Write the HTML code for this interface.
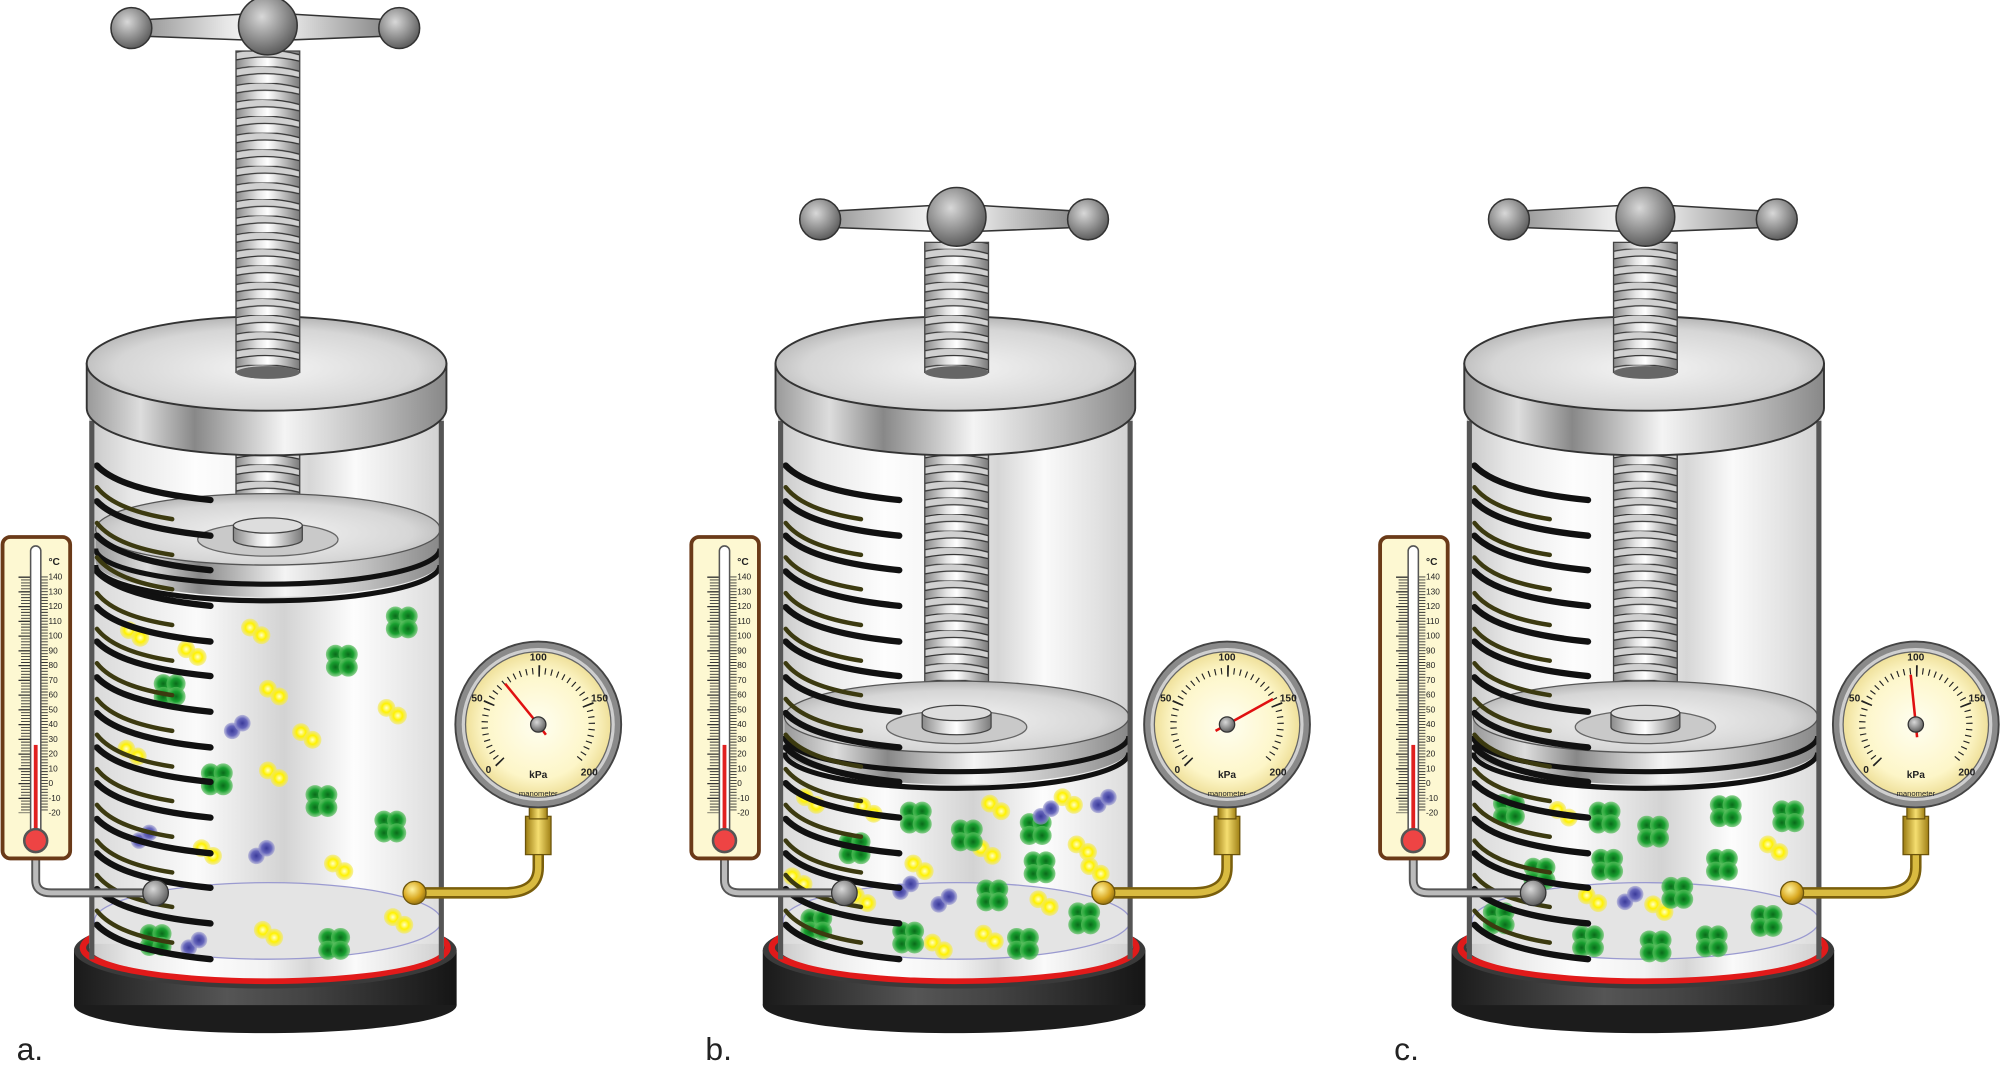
<!DOCTYPE html>
<html><head><meta charset="utf-8"><style>html,body{margin:0;padding:0;background:#fff}svg{display:block}</style></head>
<body>
<svg xmlns="http://www.w3.org/2000/svg" width="2000" height="1074" viewBox="0 0 1568 842" font-family="Liberation Sans, sans-serif">
<defs>
<linearGradient id="metal" x1="0" x2="1" y1="0" y2="0"><stop offset="0" stop-color="#8a8a8a"/><stop offset=".35" stop-color="#e6e6e6"/><stop offset=".5" stop-color="#fff"/><stop offset=".75" stop-color="#bdbdbd"/><stop offset="1" stop-color="#7a7a7a"/></linearGradient>
<linearGradient id="band" x1="0" x2="1"><stop offset="0" stop-color="#999"/><stop offset=".15" stop-color="#ddd"/><stop offset=".3" stop-color="#888"/><stop offset=".55" stop-color="#f4f4f4"/><stop offset=".8" stop-color="#bbb"/><stop offset="1" stop-color="#888"/></linearGradient>
<radialGradient id="lidtop" cx=".5" cy=".55" r=".6"><stop offset="0" stop-color="#f4f4f4"/><stop offset=".7" stop-color="#d6d6d6"/><stop offset="1" stop-color="#a9a9a9"/></radialGradient>
<linearGradient id="glass" x1="0" x2="1"><stop offset="0" stop-color="#c8c8c8"/><stop offset=".12" stop-color="#e8e8e8"/><stop offset=".3" stop-color="#fdfdfd"/><stop offset=".5" stop-color="#f2f2f2"/><stop offset=".62" stop-color="#d6d6d6"/><stop offset=".75" stop-color="#fafafa"/><stop offset=".9" stop-color="#e2e2e2"/><stop offset="1" stop-color="#cfcfcf"/></linearGradient>
<linearGradient id="gas" x1="0" x2="1"><stop offset="0" stop-color="#d9d9d9"/><stop offset=".3" stop-color="#fbfbfb"/><stop offset=".55" stop-color="#d3d3d3"/><stop offset=".75" stop-color="#fdfdfd"/><stop offset="1" stop-color="#dcdcdc"/></linearGradient>
<linearGradient id="basegr" x1="0" x2="1"><stop offset="0" stop-color="#1a1a1a"/><stop offset=".4" stop-color="#555"/><stop offset=".6" stop-color="#444"/><stop offset="1" stop-color="#151515"/></linearGradient>
<radialGradient id="ball" cx=".4" cy=".35" r=".7"><stop offset="0" stop-color="#d8d8d8"/><stop offset=".6" stop-color="#8a8a8a"/><stop offset="1" stop-color="#555"/></radialGradient>
<radialGradient id="gball" cx=".4" cy=".35" r=".7"><stop offset="0" stop-color="#fff3a0"/><stop offset=".6" stop-color="#d9a820"/><stop offset="1" stop-color="#8a6a10"/></radialGradient>
<radialGradient id="face" cx=".5" cy=".5" r=".5"><stop offset="0" stop-color="#fffef0"/><stop offset=".75" stop-color="#fdf6c8"/><stop offset="1" stop-color="#efe09a"/></radialGradient>
<linearGradient id="brass" x1="0" x2="1"><stop offset="0" stop-color="#9a7a10"/><stop offset=".5" stop-color="#f5de70"/><stop offset="1" stop-color="#a08015"/></linearGradient>
<radialGradient id="yg"><stop offset="0" stop-color="#ffffc8"/><stop offset=".5" stop-color="#fff200"/><stop offset="1" stop-color="#f2e860" stop-opacity=".6"/></radialGradient>
<radialGradient id="gg"><stop offset="0" stop-color="#0a6a1a"/><stop offset=".55" stop-color="#19a030"/><stop offset="1" stop-color="#5cc060" stop-opacity=".7"/></radialGradient>
<radialGradient id="bg"><stop offset="0" stop-color="#3a3a9a"/><stop offset=".6" stop-color="#6666bb"/><stop offset="1" stop-color="#9a9ad0" stop-opacity=".6"/></radialGradient>
<pattern id="thread" patternUnits="userSpaceOnUse" x="185" y="0" width="50" height="13">
<rect width="50" height="13" fill="url(#metal)"/>
<path d="M0 2 Q25 -3 50 4 L50 9 Q25 3 0 8 Z" fill="#d0d0d0" stroke="#333" stroke-width="1"/>
</pattern>
<g id="Y"><circle cx="-4" cy="-3" r="7" fill="url(#yg)"/><circle cx="5" cy="3" r="7" fill="url(#yg)"/></g>
<g id="B"><circle cx="-4" cy="3" r="6.5" fill="url(#bg)"/><circle cx="4" cy="-3" r="6.5" fill="url(#bg)"/></g>
<g id="G"><circle cx="-5" cy="-5" r="7.5" fill="url(#gg)"/><circle cx="5" cy="-5" r="7.5" fill="url(#gg)"/><circle cx="-5" cy="5" r="7.5" fill="url(#gg)"/><circle cx="5" cy="5" r="7.5" fill="url(#gg)"/></g>
<g id="base">
<ellipse cx="208" cy="788" rx="150" ry="22" fill="#1c1c1c"/>
<rect x="58" y="745" width="300" height="43" fill="url(#basegr)"/>
<ellipse cx="208" cy="745" rx="150" ry="30" fill="#3a3a3a"/>
<ellipse cx="208" cy="743" rx="143" ry="26" fill="none" stroke="#e11a1a" stroke-width="5"/>
</g>
<g id="cyl">
<rect x="70" y="318" width="278" height="425" fill="url(#glass)"/>
<ellipse cx="209" cy="743" rx="139" ry="24" fill="url(#glass)"/>
</g>
<g id="coil" fill="none" stroke-linecap="round">
<g stroke="#111" stroke-width="5">
<path d="M76 365 Q95 385 165 392"/><path d="M76 393 Q95 413 165 420"/><path d="M76 420 Q95 440 165 447"/><path d="M76 448 Q95 468 165 475"/><path d="M76 476 Q95 496 165 503"/><path d="M76 503 Q95 523 165 530"/><path d="M76 531 Q95 551 165 558"/><path d="M76 559 Q95 579 165 586"/><path d="M76 586 Q95 606 165 613"/><path d="M76 614 Q95 634 165 641"/><path d="M76 642 Q95 662 165 669"/><path d="M76 669 Q95 689 165 696"/><path d="M76 697 Q95 717 165 724"/><path d="M76 725 Q95 745 165 752"/>
</g>
<g stroke="#3c3a10" stroke-width="3.5">
<path d="M76 382 Q90 400 135 407"/><path d="M76 410 Q90 428 135 435"/><path d="M76 437 Q90 455 135 462"/><path d="M76 465 Q90 483 135 490"/><path d="M76 493 Q90 511 135 518"/><path d="M76 520 Q90 538 135 545"/><path d="M76 548 Q90 566 135 573"/><path d="M76 576 Q90 594 135 601"/><path d="M76 603 Q90 621 135 628"/><path d="M76 631 Q90 649 135 656"/><path d="M76 659 Q90 677 135 684"/><path d="M76 686 Q90 704 135 711"/><path d="M76 714 Q90 732 135 739"/>
</g>
</g>
<g id="lid">
<path d="M68 285 L68 320 A141 37 0 0 0 350 320 L350 285 Z" fill="url(#band)" stroke="#333" stroke-width="1.5"/>
<ellipse cx="209" cy="285" rx="141" ry="37" fill="url(#lidtop)" stroke="#333" stroke-width="1.5"/>
</g>
<g id="handle">
<path d="M103 16 L210 10 L313 16 L313 28 L210 32 L103 28 Z" fill="url(#metal)" stroke="#333" stroke-width="1.2" transform="translate(0,0)"/>
<circle cx="103" cy="22" r="16" fill="url(#ball)" stroke="#333" stroke-width="1.2"/>
<circle cx="313" cy="22" r="16" fill="url(#ball)" stroke="#333" stroke-width="1.2"/>
<circle cx="210" cy="20" r="23" fill="url(#ball)" stroke="#333" stroke-width="1.2"/>
</g>
<g id="piston">
<path d="M75 415 L75 440 A135 28 0 0 0 345 440 L345 415 Z" fill="url(#band)"/>
<ellipse cx="210" cy="415" rx="135" ry="28" fill="url(#lidtop)" stroke="#555" stroke-width="1"/>
<path d="M75 430 A135 28 0 0 0 345 430" fill="none" stroke="#111" stroke-width="4"/>
<path d="M75 443 A135 28 0 0 0 345 443" fill="none" stroke="#111" stroke-width="4"/>
<ellipse cx="210" cy="423" rx="55" ry="13" fill="#c9c9c9" stroke="#666" stroke-width="1"/>
<path d="M183 412 L183 423 A27 6 0 0 0 237 423 L237 412 Z" fill="url(#metal)" stroke="#444" stroke-width="1"/>
<ellipse cx="210" cy="412" rx="27" ry="6" fill="#ddd" stroke="#444" stroke-width="1"/>
</g>
<g id="gaugebody">
<path d="M328 700 L395 700 Q422 700 422 680 L422 665" fill="none" stroke="#7a5f0c" stroke-width="9"/>
<path d="M328 700 L395 700 Q422 700 422 680 L422 665" fill="none" stroke="#d9bb40" stroke-width="5"/>
<rect x="412" y="640" width="20" height="30" fill="url(#brass)" stroke="#6b540c" stroke-width="1"/>
<rect x="415" y="632" width="14" height="10" fill="url(#brass)" stroke="#6b540c" stroke-width="1"/>
<circle cx="325" cy="700" r="9" fill="url(#gball)" stroke="#6b540c" stroke-width="1"/>
<circle cx="422" cy="568" r="65" fill="#8a8a8a" stroke="#444" stroke-width="1.5"/>
<circle cx="422" cy="568" r="60" fill="#cfcfcf"/>
<circle cx="422" cy="568" r="57" fill="url(#face)" stroke="#666" stroke-width="1"/>
<path d="M392.3 597.7 A42 42 0 1 1 451.7 597.7" fill="none" stroke="#222" stroke-width="5" stroke-dasharray="0.9 4.05"/>
<path d="M392.3 597.7 A42 42 0 1 1 451.7 597.7" fill="none" stroke="#222" stroke-width="9" stroke-dasharray="1.3 48.17"/>
<g font-size="8" font-weight="bold" fill="#222" text-anchor="middle">
<text x="383" y="606">0</text><text x="374" y="550">50</text><text x="422" y="518">100</text><text x="470" y="550">150</text><text x="462" y="608">200</text>
<text x="422" y="610">kPa</text><text x="422" y="624" font-size="6" font-weight="normal">manometer</text>
</g>
</g>
<g id="thermo">
<path d="M28 673 L28 690 Q28 700 40 700 L120 700" fill="none" stroke="#555" stroke-width="7"/>
<path d="M28 673 L28 690 Q28 700 40 700 L120 700" fill="none" stroke="#bbb" stroke-width="4"/>
<rect x="2" y="421" width="53" height="252" rx="6" fill="#fdf8d2" stroke="#6a3a18" stroke-width="3"/>
<line x1="20" y1="452" x2="20" y2="637" stroke="#333" stroke-width="7" stroke-dasharray="0.7 1.612"/>
<line x1="19" y1="452" x2="19" y2="637.5" stroke="#333" stroke-width="9" stroke-dasharray="1 10.56"/>
<line x1="35" y1="452" x2="35" y2="637" stroke="#333" stroke-width="5" stroke-dasharray="0.7 1.612"/>
<rect x="24" y="428" width="8" height="228" rx="4" fill="#fff" stroke="#555" stroke-width="1.2"/>
<rect x="26.5" y="584" width="3" height="70" fill="#e02020"/>
<circle cx="28" cy="659" r="9" fill="#ee4444" stroke="#555" stroke-width="2"/>
<g font-size="6.5" fill="#222">
<text x="38" y="443" font-size="8" font-weight="bold">°C</text>
<text x="38" y="454.5">140</text><text x="38" y="466">130</text><text x="38" y="477.6">120</text><text x="38" y="489.2">110</text><text x="38" y="500.7">100</text><text x="38" y="512.3">90</text><text x="38" y="523.9">80</text><text x="38" y="535.4">70</text><text x="38" y="547">60</text><text x="38" y="558.5">50</text><text x="38" y="570.1">40</text><text x="38" y="581.7">30</text><text x="38" y="593.2">20</text><text x="38" y="604.8">10</text><text x="38" y="616.4">0</text><text x="38" y="627.9">-10</text><text x="38" y="639.5">-20</text>
</g>
<circle cx="122" cy="700" r="10" fill="url(#ball)" stroke="#333" stroke-width="1"/>
</g>
</defs>

<!-- ============ A ============ -->
<g>
<use href="#base"/>
<use href="#cyl"/>
<rect x="72" y="440" width="274" height="300" fill="url(#gas)"/>
<ellipse cx="210" cy="722" rx="136" ry="30" fill="#e4e4e4" stroke="#9a9ad0" stroke-width="1"/>
<rect x="185" y="320" width="50" height="95" fill="url(#thread)" stroke="#444"/>
<use href="#piston"/>
<use href="#Y" x="105" y="497"/><use href="#Y" x="150" y="512"/><use href="#Y" x="200" y="495"/><use href="#Y" x="214" y="543"/><use href="#Y" x="240" y="577"/><use href="#Y" x="214" y="607"/><use href="#Y" x="307" y="558"/><use href="#Y" x="103" y="590"/><use href="#Y" x="162" y="668"/><use href="#Y" x="265" y="680"/><use href="#Y" x="312" y="722"/><use href="#Y" x="210" y="732"/>
<use href="#G" x="315" y="488"/><use href="#G" x="268" y="518"/><use href="#G" x="133" y="541"/><use href="#G" x="170" y="611"/><use href="#G" x="252" y="628"/><use href="#G" x="306" y="648"/><use href="#G" x="262" y="740"/><use href="#G" x="122" y="737"/>
<use href="#B" x="186" y="570"/><use href="#B" x="113" y="656"/><use href="#B" x="205" y="668"/><use href="#B" x="152" y="740"/>
<use href="#coil"/>
<line x1="72" y1="330" x2="72" y2="752" stroke="#555" stroke-width="4"/><line x1="346" y1="330" x2="346" y2="752" stroke="#555" stroke-width="4"/>
<use href="#lid"/>
<rect x="185" y="40" width="50" height="252" fill="url(#thread)" stroke="#444"/>
<ellipse cx="210" cy="292" rx="25" ry="5" fill="#666"/>
<use href="#handle"/>
<use href="#thermo"/>
<use href="#gaugebody"/>
<line x1="422" y1="568" x2="396" y2="536" stroke="#e01010" stroke-width="2"/><line x1="422" y1="568" x2="428" y2="576" stroke="#e01010" stroke-width="2"/>
<circle cx="422" cy="568" r="6" fill="url(#ball)" stroke="#333" stroke-width="1"/>
<text x="13" y="831" font-size="25" fill="#222">a.</text>
</g>

<!-- ============ B ============ -->
<g transform="translate(540,0)">
<use href="#base"/>
<use href="#cyl"/>
<rect x="72" y="585" width="274" height="155" fill="url(#gas)"/>
<ellipse cx="210" cy="722" rx="136" ry="30" fill="#e4e4e4" stroke="#9a9ad0" stroke-width="1"/>
<rect x="185" y="320" width="50" height="240" fill="url(#thread)" stroke="#444"/>
<use href="#piston" y="147"/>
<use href="#Y" x="95" y="628"/><use href="#Y" x="140" y="635"/><use href="#Y" x="240" y="633"/><use href="#Y" x="297" y="628"/><use href="#Y" x="233" y="668"/><use href="#Y" x="308" y="665"/><use href="#Y" x="180" y="680"/><use href="#Y" x="85" y="690"/><use href="#Y" x="135" y="705"/><use href="#Y" x="278" y="708"/><use href="#Y" x="195" y="742"/><use href="#Y" x="235" y="735"/><use href="#Y" x="318" y="682"/>
<use href="#G" x="178" y="641"/><use href="#G" x="218" y="655"/><use href="#G" x="272" y="650"/><use href="#G" x="275" y="680"/><use href="#G" x="130" y="665"/><use href="#G" x="238" y="702"/><use href="#G" x="310" y="720"/><use href="#G" x="262" y="740"/><use href="#G" x="172" y="735"/><use href="#G" x="100" y="725"/>
<use href="#B" x="280" y="637"/><use href="#B" x="325" y="628"/><use href="#B" x="200" y="706"/><use href="#B" x="170" y="696"/>
<use href="#coil"/>
<line x1="72" y1="330" x2="72" y2="752" stroke="#555" stroke-width="4"/><line x1="346" y1="330" x2="346" y2="752" stroke="#555" stroke-width="4"/>
<use href="#lid"/>
<rect x="185" y="190" width="50" height="102" fill="url(#thread)" stroke="#444"/>
<ellipse cx="210" cy="292" rx="25" ry="5" fill="#666"/>
<use href="#handle" y="150"/>
<use href="#thermo"/>
<use href="#gaugebody"/>
<line x1="422" y1="568" x2="458" y2="548" stroke="#e01010" stroke-width="2"/><line x1="422" y1="568" x2="413" y2="573" stroke="#e01010" stroke-width="2"/>
<circle cx="422" cy="568" r="6" fill="url(#ball)" stroke="#333" stroke-width="1"/>
<text x="13" y="831" font-size="25" fill="#222">b.</text>
</g>

<!-- ============ C ============ -->
<g transform="translate(1080,0)">
<use href="#base"/>
<use href="#cyl"/>
<rect x="72" y="585" width="274" height="155" fill="url(#gas)"/>
<ellipse cx="210" cy="722" rx="136" ry="30" fill="#e4e4e4" stroke="#9a9ad0" stroke-width="1"/>
<rect x="185" y="320" width="50" height="240" fill="url(#thread)" stroke="#444"/>
<use href="#piston" y="147"/>
<use href="#Y" x="145" y="638"/><use href="#Y" x="310" y="665"/><use href="#Y" x="168" y="705"/><use href="#Y" x="220" y="712"/>
<use href="#G" x="103" y="635"/><use href="#G" x="178" y="641"/><use href="#G" x="216" y="652"/><use href="#G" x="273" y="636"/><use href="#G" x="322" y="640"/><use href="#G" x="180" y="678"/><use href="#G" x="270" y="678"/><use href="#G" x="127" y="685"/><use href="#G" x="235" y="700"/><use href="#G" x="95" y="720"/><use href="#G" x="165" y="738"/><use href="#G" x="218" y="742"/><use href="#G" x="262" y="738"/><use href="#G" x="305" y="722"/>
<use href="#B" x="198" y="704"/>
<use href="#coil"/>
<line x1="72" y1="330" x2="72" y2="752" stroke="#555" stroke-width="4"/><line x1="346" y1="330" x2="346" y2="752" stroke="#555" stroke-width="4"/>
<use href="#lid"/>
<rect x="185" y="190" width="50" height="102" fill="url(#thread)" stroke="#444"/>
<ellipse cx="210" cy="292" rx="25" ry="5" fill="#666"/>
<use href="#handle" y="150"/>
<use href="#thermo"/>
<use href="#gaugebody"/>
<line x1="422" y1="568" x2="418" y2="529" stroke="#e01010" stroke-width="2"/><line x1="422" y1="568" x2="423" y2="578" stroke="#e01010" stroke-width="2"/>
<circle cx="422" cy="568" r="6" fill="url(#ball)" stroke="#333" stroke-width="1"/>
<text x="13" y="831" font-size="25" fill="#222">c.</text>
</g>
</svg>
</body></html>
